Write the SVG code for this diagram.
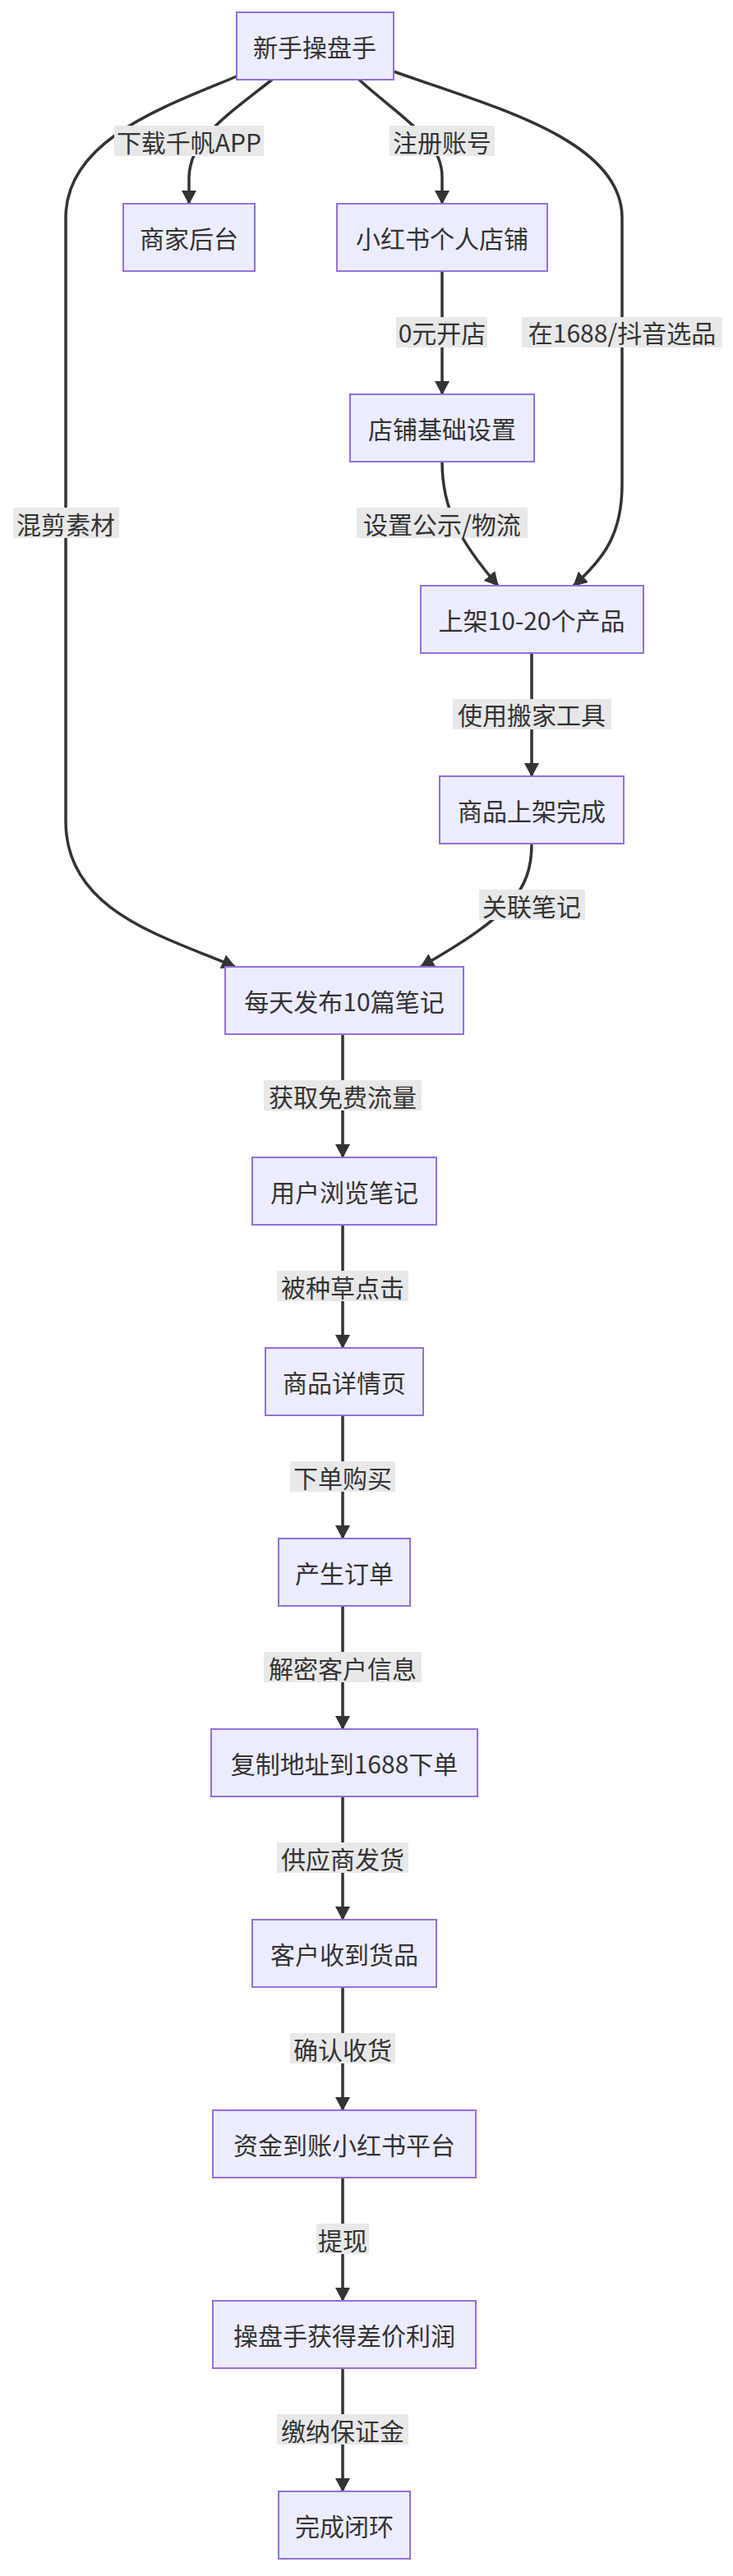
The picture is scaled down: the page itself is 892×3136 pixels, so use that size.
<svg xmlns="http://www.w3.org/2000/svg" width="892" height="3136" viewBox="0 0 892 3136">
<style>
.n rect{fill:#ECECFF;stroke:#9370DB;stroke-width:2}
text{font-family:"Noto Sans CJK SC","Liberation Sans",sans-serif;font-size:30px;fill:#333;text-anchor:middle;dominant-baseline:central}
.e path{fill:none;stroke:#333;stroke-width:3.5}
.l rect{fill:#e8e8e8}
</style>
<defs>
<marker id="a" markerUnits="userSpaceOnUse" markerWidth="18" markerHeight="18" refX="16" refY="9" orient="auto"><path d="M0,0 L17,9 L0,18 z" fill="#333"/></marker>
</defs>
<rect width="892" height="3136" fill="#fff"/>
<g class="e">
<path d="M331,97 C270,145 232,170 230,215 L230,248" marker-end="url(#a)"/>
<path d="M437,97 C490,145 538,170 538,215 L538,248" marker-end="url(#a)"/>
<path d="M288,93 C200,130 80,170 80,265 L80,1000 C80,1110 200,1140 286,1177" marker-end="url(#a)"/>
<path d="M479,87 C600,130 757,170 757,265 L757,590 C757,650 735,680 698,713" marker-end="url(#a)"/>
<path d="M538,330 L538,480" marker-end="url(#a)"/>
<path d="M538,562 C538,620 560,660 606,713" marker-end="url(#a)"/>
<path d="M647,794 L647,945" marker-end="url(#a)"/>
<path d="M647,1027 C647,1085 620,1115 512,1177" marker-end="url(#a)"/>
<path d="M417,1259 L417,1409" marker-end="url(#a)"/>
<path d="M417,1491 L417,1641" marker-end="url(#a)"/>
<path d="M417,1723 L417,1873" marker-end="url(#a)"/>
<path d="M417,1955 L417,2105" marker-end="url(#a)"/>
<path d="M417,2187 L417,2337" marker-end="url(#a)"/>
<path d="M417,2419 L417,2569" marker-end="url(#a)"/>
<path d="M417,2651 L417,2801" marker-end="url(#a)"/>
<path d="M417,2883 L417,3033" marker-end="url(#a)"/>
</g>
<g class="l">
<rect x="139" y="153" width="182" height="37"/><text x="230" y="172">下载千帆APP</text>
<rect x="474" y="153" width="128" height="37"/><text x="538" y="172">注册账号</text>
<rect x="482" y="386" width="111" height="37"/><text x="538" y="404">0元开店</text>
<rect x="635" y="386" width="244" height="37"/><text x="757" y="404">在1688/抖音选品</text>
<rect x="16" y="618" width="129" height="37"/><text x="80" y="637">混剪素材</text>
<rect x="434" y="618" width="208" height="37"/><text x="538" y="637">设置公示/物流</text>
<rect x="551" y="851" width="193" height="37"/><text x="647" y="869">使用搬家工具</text>
<rect x="583" y="1083" width="129" height="37"/><text x="647" y="1102">关联笔记</text>
<rect x="321" y="1315" width="192" height="37"/><text x="417" y="1334">获取免费流量</text>
<rect x="337" y="1547" width="160" height="37"/><text x="417" y="1566">被种草点击</text>
<rect x="353" y="1779" width="128" height="37"/><text x="417" y="1798">下单购买</text>
<rect x="321" y="2011" width="192" height="37"/><text x="417" y="2030">解密客户信息</text>
<rect x="337" y="2243" width="160" height="37"/><text x="417" y="2262">供应商发货</text>
<rect x="353" y="2475" width="128" height="37"/><text x="417" y="2494">确认收货</text>
<rect x="385" y="2707" width="64" height="37"/><text x="417" y="2726">提现</text>
<rect x="337" y="2939" width="160" height="37"/><text x="417" y="2958">缴纳保证金</text>
</g>
<g id="n1" class="n"><rect x="288" y="15" width="191" height="82"/><text x="383" y="56">新手操盘手</text></g>
<g id="n2" class="n"><rect x="150" y="248" width="160" height="82"/><text x="230" y="289">商家后台</text></g>
<g id="n3" class="n"><rect x="410" y="248" width="256" height="82"/><text x="538" y="289">小红书个人店铺</text></g>
<g id="n4" class="n"><rect x="426" y="480" width="224" height="82"/><text x="538" y="521">店铺基础设置</text></g>
<g id="n5" class="n"><rect x="512" y="713" width="271" height="82"/><text x="647" y="754">上架10-20个产品</text></g>
<g id="n6" class="n"><rect x="535" y="945" width="224" height="82"/><text x="647" y="986">商品上架完成</text></g>
<g id="n7" class="n"><rect x="274" y="1177" width="290" height="82"/><text x="419" y="1218">每天发布10篇笔记</text></g>
<g id="n8" class="n"><rect x="307" y="1409" width="224" height="82"/><text x="419" y="1450">用户浏览笔记</text></g>
<g id="n9" class="n"><rect x="323" y="1641" width="192" height="82"/><text x="419" y="1682">商品详情页</text></g>
<g id="n10" class="n"><rect x="339" y="1873" width="160" height="82"/><text x="419" y="1914">产生订单</text></g>
<g id="n11" class="n"><rect x="257" y="2105" width="324" height="82"/><text x="419" y="2146">复制地址到1688下单</text></g>
<g id="n12" class="n"><rect x="307" y="2337" width="224" height="82"/><text x="419" y="2378">客户收到货品</text></g>
<g id="n13" class="n"><rect x="259" y="2569" width="320" height="82"/><text x="419" y="2610">资金到账小红书平台</text></g>
<g id="n14" class="n"><rect x="259" y="2801" width="320" height="82"/><text x="419" y="2842">操盘手获得差价利润</text></g>
<g id="n15" class="n"><rect x="339" y="3033" width="160" height="82"/><text x="419" y="3074">完成闭环</text></g>
</svg>
